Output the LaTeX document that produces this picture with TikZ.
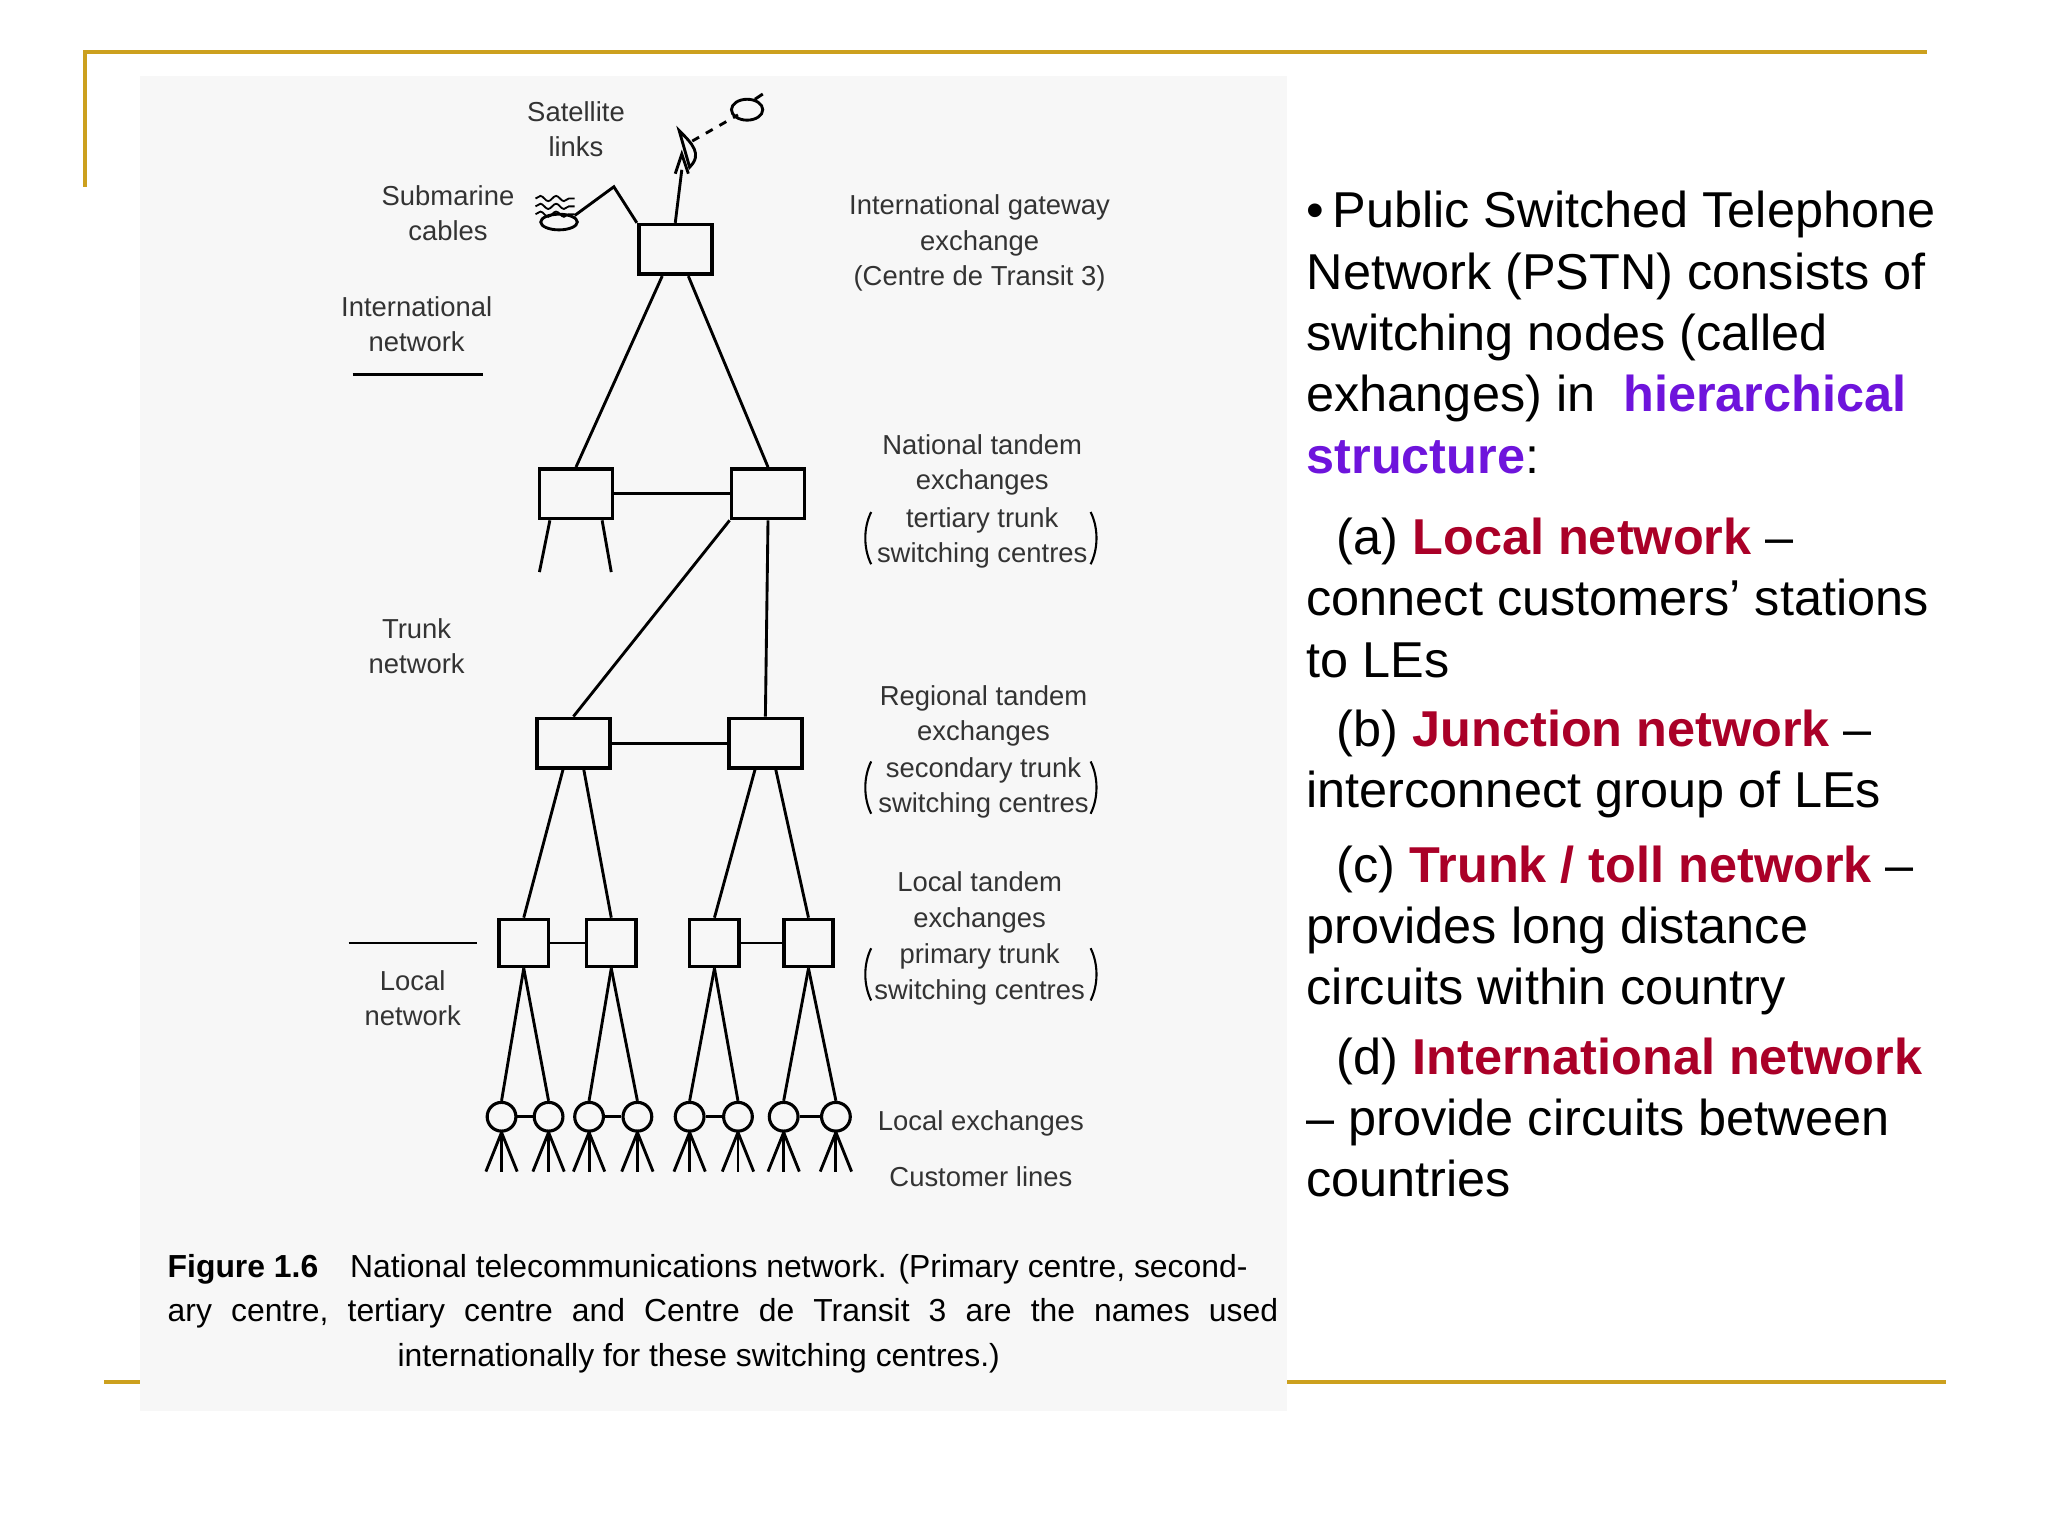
\documentclass[tikz,border=0pt]{standalone}
\usepackage{fontspec}
\setmainfont{Liberation Sans}
\usetikzlibrary{decorations.pathmorphing}
\definecolor{gold}{RGB}{204,160,30}
\definecolor{dred}{RGB}{170,0,40}
\definecolor{purp}{RGB}{110,20,220}
\begin{document}
\begin{tikzpicture}[x=0.5pt,y=-0.5pt,
  bx/.style={draw,line width=1.4pt,minimum width=28pt,minimum height=19pt,inner sep=0},
  sbx/.style={draw,line width=1.4pt,minimum width=19pt,minimum height=18pt,inner sep=0},
  le/.style={draw,circle,line width=1.2pt,minimum size=11pt,inner sep=0},
  ln/.style={line width=1.1pt},
  lab/.style={font=\fontsize{10.5}{13.5}\selectfont,align=center,text=black!80},
  body/.style={font=\fontsize{19.3}{23.5}\selectfont,anchor=north west,align=left,inner sep=0}]
\useasboundingbox (0,0) rectangle (1568,1176);
\fill[white] (0,0) rectangle (1568,1176);
\draw[gold,line width=1.5pt] (65,143) -- (65,40) -- (1475,40);
\draw[gold,line width=1.5pt] (80,1058) -- (1490,1058);
\fill[black!3] (107,58) rectangle (985,1080);
% boxes
\node[bx] (T) at (517,191) {};
\node[bx] (N1) at (441,378) {};
\node[bx] (N2) at (588,378) {};
\node[bx] (R1) at (439,569) {};
\node[bx] (R2) at (586,569) {};
\node[sbx] (L1) at (401,722) {};
\node[sbx] (L2) at (468,722) {};
\node[sbx] (L3) at (547,722) {};
\node[sbx] (L4) at (619,722) {};
\foreach \i/\x in {1/384,2/420,3/451,4/488,5/528,6/565,7/600,8/640}{
  \node[le] (E\i) at (\x,855) {};
  \coordinate (F\i) at (\x,867);
  \draw[ln] (F\i) -- (\x-12,897); \draw[ln] (F\i) -- (\x,897); \draw[ln] (F\i) -- (\x+12,897);
}
\draw[ln] (E1)--(E2); \draw[ln] (E3)--(E4); \draw[ln] (E5)--(E6); \draw[ln] (E7)--(E8);
% connections
\draw[ln] (T.south) ++(-10,0) coordinate (t1) -- (N1.north);
\draw[ln] (T.south) ++(10,0) coordinate (t2) -- (N2.north);
\draw[ln] (N1) -- (N2); \draw[ln] (R1) -- (R2);
\draw[ln] (N1.south) ++(-20,0) -- (413,438);
\draw[ln] (N1.south) ++(20,0) -- (468,438);
\draw[ln] (N2.south west) -- (R1.north);
\draw[ln] (N2.south) -- (R2.north);
\draw[ln] (R1.south) ++(-8,0) -- (L1.north);
\draw[ln] (R1.south) ++(8,0) -- (L2.north);
\draw[ln] (R2.south) ++(-8,0) -- (L3.north);
\draw[ln] (R2.south) ++(8,0) -- (L4.north);
\draw[ln] (L1)--(L2); \draw[ln] (L3)--(L4);
\foreach \b/\p/\q in {L1/E1/E2,L2/E3/E4,L3/E5/E6,L4/E7/E8}{
  \draw[ln] (\b.south) -- (\p.north); \draw[ln] (\b.south) -- (\q.north);}
% satellite & cables
\coordinate (ant) at (522,130);
\draw[ln] (T.north) -- (ant);
\draw[ln] (517,133) -- (522,118) -- (527,133);
\draw[ln] (520,100) .. controls (530,110) and (538,118) .. (528,128) -- cycle;
\draw[ln,dashed] (530,108) -- (565,88);
\draw[ln] (572,84) ellipse (6pt and 4pt);
\draw[ln] (578,76) -- (584,72);
\draw[ln] (T.north west) -- (470,143) -- (440,165);
\draw[ln] (428,170) ellipse (7pt and 3pt);
\foreach \y in {152,158,164}{\draw[line width=0.7pt,decorate,decoration={snake,amplitude=1pt,segment length=6pt}] (410,\y) -- (440,\y);}
% labels
\node[lab] at (441,99) {Satellite\\links};
\node[lab] at (343,163) {Submarine\\cables};
\node[lab] at (319,248) {International\\network};
\draw[ln] (270,287) -- (370,287);
\node[lab] at (750,186) {International gateway\\exchange\\(Centre de Transit 3)};
\node[lab] at (752,356) {National tandem\\exchanges};
\node[lab] at (752,412) {tertiary trunk\\switching centres};
\node[lab] at (319,495) {Trunk\\network};
\node[lab] at (753,548) {Regional tandem\\exchanges};
\node[lab] at (753,603) {secondary trunk\\switching centres};
\node[lab] at (750,691) {Local tandem\\exchanges};
\node[lab] at (750,746) {primary trunk\\switching centres};
\draw[ln] (267,722) -- (365,722);
\node[lab] at (316,764) {Local\\network};
\node[lab] at (751,860) {Local exchanges};
\node[lab] at (751,901) {Customer lines};
\foreach \y in {412,603,746}{
  \draw[line width=0.8pt] (667,\y-20) .. controls (661,\y-8) and (661,\y+8) .. (667,\y+20);
  \draw[line width=0.8pt] (835,\y-20) .. controls (841,\y-8) and (841,\y+8) .. (835,\y+20);}
\node[font=\fontsize{12.2}{17}\selectfont,anchor=north west,inner sep=0,align=left] at (128,960)
 {\textbf{Figure 1.6}\hspace{1em}National telecommunications network. (Primary centre, second-\\
  ary\hspace{0.6em}centre,\hspace{0.6em}tertiary\hspace{0.6em}centre\hspace{0.6em}and\hspace{0.6em}Centre\hspace{0.6em}de\hspace{0.6em}Transit\hspace{0.6em}3\hspace{0.6em}are\hspace{0.6em}the\hspace{0.6em}names\hspace{0.6em}used\\
  \hspace{88pt}internationally for these switching centres.)};
% right text
\node[body] at (1000,146) {\textbullet\,Public Switched Telephone\\Network (PSTN) consists of\\switching nodes (called\\exhanges) in \ \textcolor{purp}{\textbf{hierarchical}}\\\textcolor{purp}{\textbf{structure}}:};
\node[body] at (1000,396) {\hspace{0.6em}(a) \textcolor{dred}{\textbf{Local network}} --\\connect customers’ stations\\to LEs};
\node[body] at (1000,543) {\hspace{0.6em}(b) \textcolor{dred}{\textbf{Junction network}} --\\interconnect group of LEs};
\node[body] at (1000,647) {\hspace{0.6em}(c) \textcolor{dred}{\textbf{Trunk / toll network}} --\\provides long distance\\circuits within country};
\node[body] at (1000,794) {\hspace{0.6em}(d) \textcolor{dred}{\textbf{International network}}\\-- provide circuits between\\countries};
\end{tikzpicture}
\end{document}
